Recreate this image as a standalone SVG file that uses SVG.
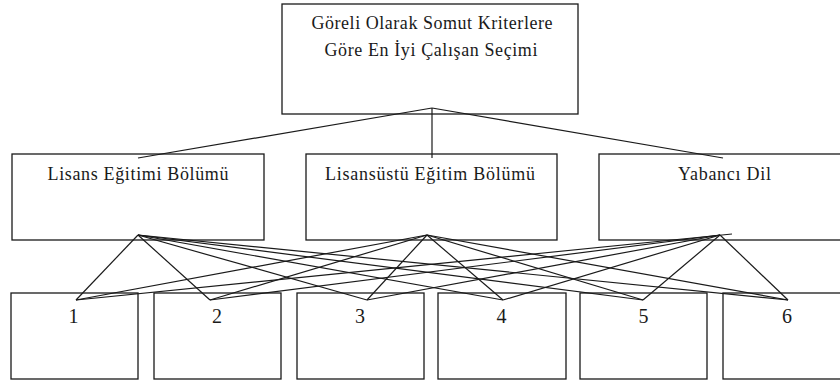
<svg xmlns="http://www.w3.org/2000/svg" width="840" height="384" viewBox="0 0 840 384" font-family="Liberation Serif, Times New Roman, serif">
<style>
.box{fill:#fff;stroke:#1a1a1a;stroke-width:1.3}
text{font-family:"Liberation Serif","Times New Roman",serif;fill:#1a1a1a;text-anchor:middle}
.s{font-size:18px}
.n{font-size:20px}
.c line{stroke:#1a1a1a;stroke-width:1.2;fill:none}
</style>
<rect width="840" height="384" fill="#fff"/>
<g id="goal">
<rect class="box" x="282" y="4" width="296" height="110"/>
<text class="s" x="432" y="28.5" textLength="241" lengthAdjust="spacing">Göreli Olarak Somut Kriterlere</text>
<text class="s" x="431" y="55.5" textLength="213" lengthAdjust="spacing">Göre En İyi Çalışan Seçimi</text>
</g>
<g id="crit1">
<rect class="box" x="12" y="154" width="252" height="86"/>
<text class="s" x="138" y="179.5" textLength="181" lengthAdjust="spacing">Lisans Eğitimi Bölümü</text>
</g>
<g id="crit2">
<rect class="box" x="306" y="154" width="251" height="86"/>
<text class="s" x="430" y="179.5" textLength="210" lengthAdjust="spacing">Lisansüstü Eğitim Bölümü</text>
</g>
<g id="crit3">
<rect class="box" x="599" y="154" width="250" height="86"/>
<text class="s" x="724.5" y="179.5" textLength="93" lengthAdjust="spacing">Yabancı Dil</text>
</g>
<g id="alt1"><rect class="box" x="11" y="293" width="127" height="86"/><text class="n" x="73.5" y="323">1</text></g>
<g id="alt2"><rect class="box" x="154" y="293" width="127" height="86"/><text class="n" x="217" y="323">2</text></g>
<g id="alt3"><rect class="box" x="297" y="293" width="127" height="86"/><text class="n" x="360" y="323">3</text></g>
<g id="alt4"><rect class="box" x="438" y="293" width="128" height="86"/><text class="n" x="501.5" y="323">4</text></g>
<g id="alt5"><rect class="box" x="580" y="293" width="127" height="86"/><text class="n" x="643.5" y="323">5</text></g>
<g id="alt6"><rect class="box" x="723" y="293" width="127" height="86"/><text class="n" x="787" y="323">6</text></g>
<g id="connectors" class="c">
<line x1="432" y1="108" x2="138" y2="158"/>
<line x1="432" y1="108" x2="432" y2="158"/>
<line x1="432" y1="108" x2="723" y2="158"/>
<line x1="138" y1="235" x2="76" y2="300"/>
<line x1="138" y1="235" x2="210" y2="300"/>
<line x1="138" y1="235" x2="367" y2="300"/>
<line x1="138" y1="235" x2="503" y2="300"/>
<line x1="138" y1="235" x2="643" y2="300"/>
<line x1="138" y1="235" x2="788" y2="300"/>
<line x1="427" y1="235" x2="76" y2="300"/>
<line x1="427" y1="235" x2="210" y2="300"/>
<line x1="427" y1="235" x2="367" y2="300"/>
<line x1="427" y1="235" x2="503" y2="300"/>
<line x1="427" y1="235" x2="643" y2="300"/>
<line x1="427" y1="235" x2="788" y2="300"/>
<line x1="732" y1="234" x2="76" y2="300"/>
<line x1="720" y1="235" x2="210" y2="300"/>
<line x1="720" y1="235" x2="367" y2="300"/>
<line x1="720" y1="235" x2="503" y2="300"/>
<line x1="720" y1="235" x2="643" y2="300"/>
<line x1="720" y1="235" x2="788" y2="300"/>
</g>
</svg>
